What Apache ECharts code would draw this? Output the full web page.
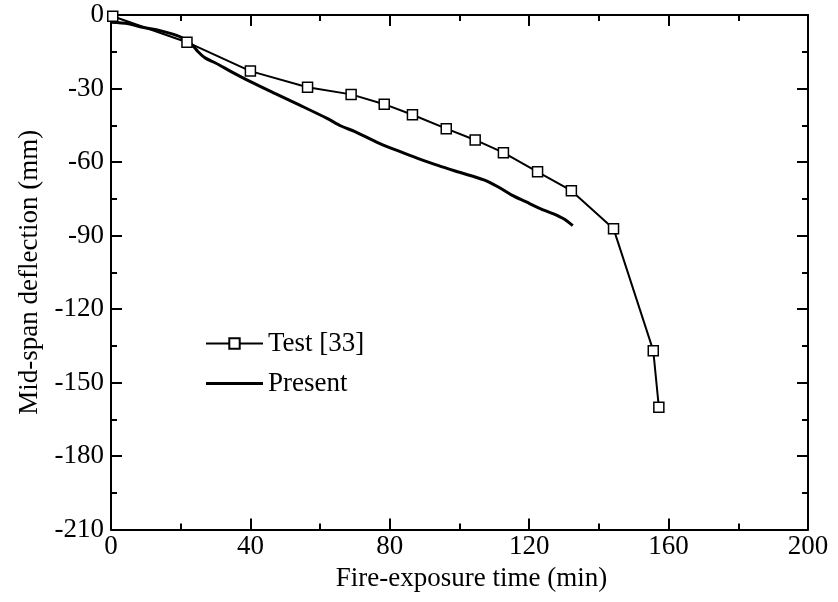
<!DOCTYPE html>
<html>
<head>
<meta charset="utf-8">
<script src="https://cdn.jsdelivr.net/npm/echarts@6/dist/echarts.min.js"></script>
<style>
  html, body { margin: 0; padding: 0; background: #fff; }
  #main { width: 838px; height: 602px; }
</style>
</head>
<body>
<div id="main"></div>
<script>
// test points (squares)
var testTime = [0.5, 21.8, 40.0, 56.4, 68.9, 78.4, 86.5, 96.2, 104.5, 112.6, 122.4, 132.1, 144.2, 155.6, 157.2];
var testDefl = [-0.5, -11.1, -22.9, -29.5, -32.4, -36.4, -40.7, -46.4, -51.0, -56.2, -64.0, -71.7, -87.2, -137.0, -160.1];
// present model curve
var presTime = [0, 5, 9, 13, 17, 20, 22, 23.5, 25, 27, 30, 35, 40, 47, 54, 62, 66, 70, 77, 83, 88, 94, 100, 107, 111, 115, 119, 123, 127, 130, 132.5];
var presDefl = [-3, -3.6, -5, -6, -7.5, -9, -10.8, -12.5, -15, -17.5, -19.6, -23.5, -27.2, -32, -36.7, -42.2, -45.3, -47.6, -52.4, -55.8, -58.5, -61.5, -64.2, -67.3, -70.1, -73.5, -76.2, -78.9, -81.2, -83.3, -86];

var fontName = 'Liberation Serif';

function pairs(xs, ys){
	var out = [];
	for(var i = 0;i<xs.length;i++){
		out.push([xs[i], ys[i]]);
	}
	return out;
}

function axisBase(pos, showLabel){
	return {
		type: 'value',
		position: pos,
		axisLine: { show: true, onZero: false, lineStyle: { color: '#000', width: 2 } },
		axisTick: { show: true, inside: true, length: 11, lineStyle: { color: '#000', width: 2 } },
		minorTick: { show: true, splitNumber: 2, length: 6, lineStyle: { color: '#000', width: 2 } },
		splitLine: { show: false },
		axisLabel: {
			show: showLabel,
			color: '#000',
			fontFamily: fontName,
			fontSize: 27
		}
	};
}

var xBottom = axisBase('bottom', true);
xBottom.min = 0; xBottom.max = 200; xBottom.interval = 40;
xBottom.axisLabel.margin = 4;
xBottom.name = 'Fire-exposure time (min)';
xBottom.nameLocation = 'middle';
xBottom.nameGap = 36;
xBottom.nameTextStyle = { color: '#000', fontFamily: fontName, fontSize: 27, padding: [0, 0, 0, 24] };

var xTop = axisBase('top', false);
xTop.min = 0; xTop.max = 200; xTop.interval = 40;

var yLeft = axisBase('left', true);
yLeft.min = -210; yLeft.max = 0; yLeft.interval = 30;
yLeft.axisLabel.margin = 7;
yLeft.name = 'Mid-span deflection (mm)';
yLeft.nameLocation = 'middle';
yLeft.nameRotate = 90;
yLeft.nameGap = 68;
yLeft.nameTextStyle = { color: '#000', fontFamily: fontName, fontSize: 27 };

var yRight = axisBase('right', false);
yRight.min = -210; yRight.max = 0; yRight.interval = 30;

var myChart = echarts.init(document.getElementById('main'), null, { renderer: 'canvas' });

var option = {
	backgroundColor: '#fff',
	animation: false,
	grid: { left: 111, right: 30, top: 15, bottom: 72.5, containLabel: false },
	legend: {
		orient: 'vertical',
		left: 205,
		top: 330,
		padding: 0,
		itemWidth: 57,
		itemHeight: 13,
		itemGap: 13,
		textStyle: { color: '#000', fontFamily: fontName, fontSize: 27, lineHeight: 27, padding: [0, 0, 0, 0] },
		data: [
			{ name: 'Test [33]' },
			{ name: 'Present', icon: 'path://M0,0H20V1H0Z' }
		]
	},
	xAxis: [xBottom, xTop],
	yAxis: [yLeft, yRight],
	series: [
		{
			name: 'Present',
			type: 'line',
			xAxisIndex: 0,
			yAxisIndex: 0,
			showSymbol: false,
			symbol: 'none',
			smooth: 0.3,
			lineStyle: { color: '#000', width: 3 },
			itemStyle: { color: '#000' },
			data: pairs(presTime, presDefl)
		},
		{
			name: 'Test [33]',
			type: 'line',
			xAxisIndex: 0,
			yAxisIndex: 0,
			symbol: 'rect',
			symbolSize: 10,
			lineStyle: { color: '#000', width: 2 },
			itemStyle: { color: '#fff', borderColor: '#000', borderWidth: 1.5 },
			data: pairs(testTime, testDefl)
		}
	]
};

myChart.setOption(option, true);
</script>
</body>
</html>
